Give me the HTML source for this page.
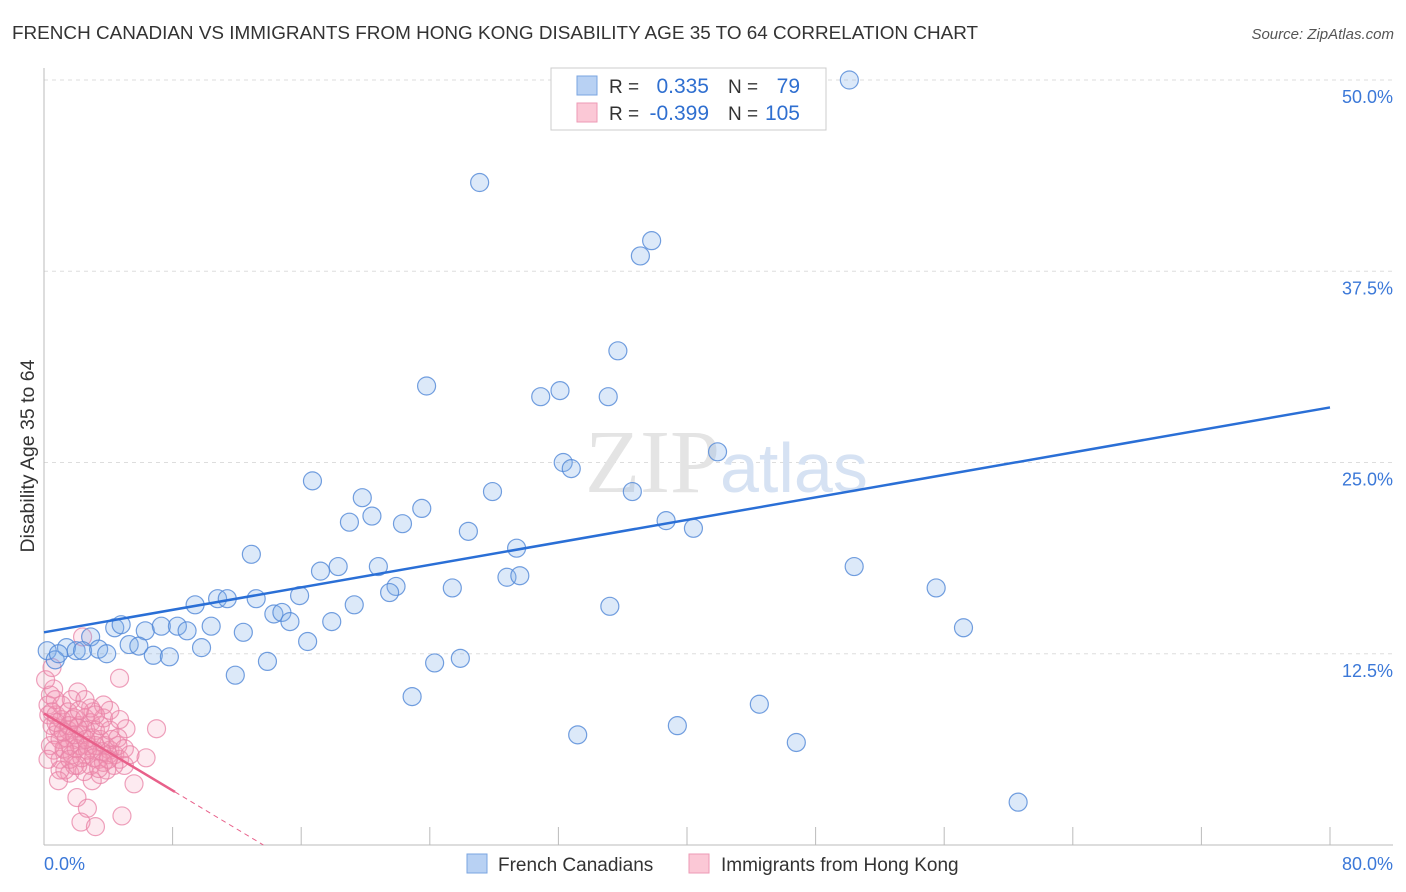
<!DOCTYPE html>
<html><head><meta charset="utf-8"><style>
body{margin:0;background:#fff;font-family:"Liberation Sans",sans-serif;}
svg{display:block}
</style></head><body>
<svg id="chart" width="1406" height="892">
<text x="12" y="39" font-size="18.9" fill="#333">FRENCH CANADIAN VS IMMIGRANTS FROM HONG KONG DISABILITY AGE 35 TO 64 CORRELATION CHART</text>
<text x="1394" y="39" font-size="15" fill="#555" text-anchor="end" font-style="italic">Source: ZipAtlas.com</text>
<text x="34" y="456" font-size="19.5" fill="#333" text-anchor="middle" transform="rotate(-90 34 456)">Disability Age 35 to 64</text>
<g id="grid"></g>
<text x="720" y="492" font-size="90" fill="#e4e4e4" text-anchor="end" font-family="Liberation Serif">ZIP</text>
<text x="720" y="492" font-size="70" fill="#d6e2f3">atlas</text>
<g id="pts"></g>
<g>
<rect x="551" y="68" width="275" height="62" fill="#fff" stroke="#ccc"/>
<rect x="577" y="76" width="20" height="19" fill="#b8d1f3" stroke="#7aa5e0"/>
<rect x="577" y="103" width="20" height="19" fill="#fbc8d6" stroke="#ee9ab5"/>
<text x="609" y="93" font-size="19" fill="#333">R = </text><text x="709" y="93" font-size="21" fill="#2f6fd0" text-anchor="end">0.335</text>
<text x="728" y="93" font-size="19" fill="#333">N = </text><text x="800" y="93" font-size="21" fill="#2f6fd0" text-anchor="end">79</text>
<text x="609" y="120" font-size="19" fill="#333">R = </text><text x="709" y="120" font-size="21" fill="#2f6fd0" text-anchor="end">-0.399</text>
<text x="728" y="120" font-size="19" fill="#333">N = </text><text x="800" y="120" font-size="21" fill="#2f6fd0" text-anchor="end">105</text>
</g>
<g>
<rect x="467" y="854" width="20" height="19" fill="#b8d1f3" stroke="#7aa5e0"/>
<text x="498" y="871" font-size="19" fill="#333">French Canadians</text>
<rect x="689" y="854" width="20" height="19" fill="#fbc8d6" stroke="#ee9ab5"/>
<text x="721" y="871" font-size="19" fill="#333">Immigrants from Hong Kong</text>
</g>
</svg>
<script>
const yTicks=[12.5,25,37.5,50];
const yTickLabels=["12.5%","25.0%","37.5%","50.0%"];
const xTickVals=[0,8,16,24,32,40,48,56,64,72,80];
const blueX=[50.1,27.1,37.8,37.1,35.7,23.8,32.1,30.9,35.1,41.9,32.3,32.8,16.7,27.9,36.6,19.8,20.4,23.5,19.0,22.3,26.4,38.7,40.4,12.9,29.4,50.4,55.5,17.2,18.3,20.8,28.8,29.6,21.9,21.5,25.4,9.4,10.8,11.4,13.2,15.9,19.3,35.2,14.3,14.8,15.3,17.9,4.4,4.8,6.3,7.3,8.3,8.9,10.4,12.4,16.4,57.2,2.9,1.4,2.0,2.4,3.4,3.9,5.3,5.9,6.8,7.8,9.8,13.9,11.9,24.3,25.9,0.2,0.7,0.9,22.9,44.5,39.4,33.2,46.8,60.6];
const blueY=[50.0,43.3,39.5,38.5,32.3,30.0,29.7,29.3,29.3,25.7,25.0,24.6,23.8,23.1,23.1,22.7,21.5,22.0,21.1,21.0,20.5,21.2,20.7,19.0,19.4,18.2,16.8,17.9,18.2,18.2,17.5,17.6,16.9,16.5,16.8,15.7,16.1,16.1,16.1,16.3,15.7,15.6,15.1,15.2,14.6,14.6,14.2,14.4,14.0,14.3,14.3,14.0,14.3,13.9,13.3,14.2,13.6,12.9,12.7,12.7,12.8,12.5,13.1,13.0,12.4,12.3,12.9,12.0,11.1,11.9,12.2,12.7,12.1,12.5,9.7,9.2,7.8,7.2,6.7,2.8];
const pinkX=[4.7,2.4,7.0,6.35,5.6,4.85,2.05,2.7,2.3,3.2,5.1,2.1,1.7,0.6,0.4,0.25,0.3,0.5,0.7,0.4,1.0,1.3,1.6,1.9,1.1,1.5,1.75,2.2,2.55,2.9,3.2,3.5,3.8,4.1,4.4,4.7,5.0,4.2,4.6,4.0,3.4,2.9,2.55,2.2,1.9,1.6,1.3,1.0,0.9,0.75,1.1,1.5,1.9,2.35,2.7,3.1,3.6,3.0,2.6,2.1,1.4,1.75,1.0,0.9,1.25,3.5,4.1,4.6,3.05,3.7,2.9,3.2,4.35,3.9,3.5,3.0,2.5,2.1,1.6,0.7,0.5,0.75,2.0,2.35,2.7,3.1,3.7,5.0,5.35,4.0,3.4,0.6,0.25,4.1,3.7,0.1,0.5,2.55,3.2,4.7,1.2,1.55,1.9,2.2,2.6];
const pinkY=[10.9,13.6,7.6,5.7,4.0,1.9,3.1,2.4,1.5,1.2,7.6,10.0,9.5,10.2,9.8,9.15,8.5,7.8,7.2,6.5,5.6,4.9,4.7,5.2,8.2,7.5,8.2,7.8,8.3,8.0,7.5,6.9,6.5,6.2,5.9,5.6,5.2,6.9,6.5,5.9,5.6,5.2,5.9,6.5,6.9,6.5,6.2,6.9,7.65,8.5,9.15,8.7,8.3,7.2,6.5,6.2,6.1,7.0,7.5,7.65,7.0,5.9,4.9,4.2,6.3,7.8,7.5,7.0,8.7,8.3,8.95,6.5,5.2,4.9,4.6,4.2,4.8,5.2,5.6,9.5,8.7,8.0,6.3,5.7,6.2,5.7,5.4,6.3,5.9,5.6,5.0,6.2,5.6,8.8,9.15,10.8,11.6,9.5,8.5,8.2,7.4,7.8,7.2,8.8,6.9];
const blueLine=[13.9,28.6];
const pinkLine=[8.6,-0.63];

const NS="http://www.w3.org/2000/svg";
const X0=44,X1=1330,Y0=845,Y50=80;
const sx=v=>X0+v/80*(X1-X0);
const sy=v=>Y0-v/50*(Y0-Y50);
function mk(tag,attrs,parent){const e=document.createElementNS(NS,tag);for(const k in attrs)e.setAttribute(k,attrs[k]);parent.appendChild(e);return e;}
const grid=document.getElementById('grid');
yTicks.forEach((t,i)=>{
  const l=mk('line',{x1:X0,x2:1393,y1:sy(t),y2:sy(t),stroke:'#ddd','stroke-dasharray':'4 4'},grid);
  
  
  const tx=mk('text',{x:1393,y:sy(t)+23,'font-size':18,fill:'#3b78d8','text-anchor':'end'},grid);
  tx.textContent=yTickLabels[i];
  
  
});
const ax=mk('line',{x1:X0,x2:1393,y1:Y0,y2:Y0,stroke:'#bbb'},grid);


const ay=mk('line',{x1:X0,x2:X0,y1:68,y2:Y0,stroke:'#bbb'},grid);


xTickVals.forEach(v=>{
  const t=mk('line',{x1:sx(v),x2:sx(v),y1:Y0-18,y2:Y0,stroke:'#bbb'},grid);
  
  
});
const xl=mk('text',{x:44,y:870,'font-size':18,fill:'#3b78d8'},grid);xl.textContent='0.0%';


const xr=mk('text',{x:1393,y:870,'font-size':18,fill:'#3b78d8','text-anchor':'end'},grid);xr.textContent='80.0%';



const pts=document.getElementById('pts');
pinkX.forEach((x,i)=>{
  const c=mk('circle',{cx:sx(x),cy:sy(pinkY[i]),r:9,fill:'rgba(244,150,178,0.2)',stroke:'rgba(232,130,165,0.75)','stroke-width':1.2},pts);
  
  
});
blueX.forEach((x,i)=>{
  const c=mk('circle',{cx:sx(x),cy:sy(blueY[i]),r:9,fill:'rgba(130,175,235,0.28)',stroke:'rgba(80,135,215,0.8)','stroke-width':1.2},pts);
  
  
});
const bl=mk('line',{x1:sx(0),y1:sy(blueLine[0]),x2:sx(80),y2:sy(blueLine[1]),stroke:'#2a6fd6','stroke-width':2.5},pts);


const pEnd=8.15, pZero=-pinkLine[0]/pinkLine[1];
const pl=mk('line',{x1:sx(0),y1:sy(pinkLine[0]),x2:sx(pEnd),y2:sy(pinkLine[0]+pinkLine[1]*pEnd),stroke:'#e8608a','stroke-width':2.5},pts);


const pd=mk('line',{x1:sx(pEnd),y1:sy(pinkLine[0]+pinkLine[1]*pEnd),x2:sx(pZero),y2:sy(0),stroke:'#e8608a','stroke-width':1,'stroke-dasharray':'5 4'},pts);


</script>
</body></html>
